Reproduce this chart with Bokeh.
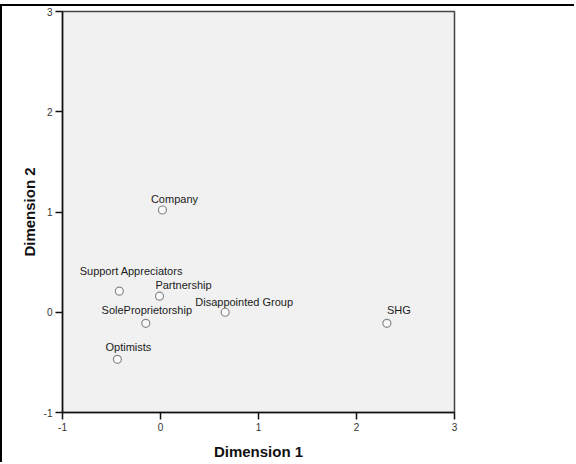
from bokeh.plotting import figure
from bokeh.models import ColumnDataSource, Range1d, FixedTicker, Label, PrintfTickFormatter
from bokeh.embed import file_html
from bokeh.resources import INLINE

# Object points on the first two dimensions
categories = ["Company", "Support Appreciators", "Partnership", "SoleProprietorship",
              "Disappointed Group", "Optimists", "SHG"]
dim1 = [0.02, -0.42, -0.01, -0.15, 0.66, -0.44, 2.31]
dim2 = [1.02, 0.21, 0.16, -0.11, 0.00, -0.47, -0.11]
tick_values = [-1, 0, 1, 2, 3]

# Label placement next to each point (screen pixels)
label_dx = [12, 12, 24, 1, 19, 11, 12]
label_dy = [-11, -20, -11, -13, -10, -12, -13]

source = ColumnDataSource(dict(
    x=dim1, y=dim2, name=categories,
    dx=label_dx, dy=label_dy,
))

p = figure(
    width=574, height=458,
    x_range=Range1d(-1, 3), y_range=Range1d(-1, 3),
    output_backend="svg", toolbar_location=None,
    min_border_left=60, min_border_right=122,
    min_border_top=5, min_border_bottom=52,
)
p.styles = {"border-top": "2px solid black", "border-left": "2px solid black",
            "margin-top": "4px"}

p.background_fill_color = "#f1f1f1"
p.border_fill_color = "white"
p.outline_line_color = "#444444"
p.outline_line_width = 1.5
p.grid.visible = False

for ax in (p.xaxis, p.yaxis):
    ax.ticker = FixedTicker(ticks=tick_values)
    ax.formatter = PrintfTickFormatter(format="%d")
    ax.axis_line_color = "#111111"
    ax.axis_line_width = 1.5
    ax.major_tick_line_color = "#111111"
    ax.major_tick_line_width = 1.5
    ax.major_tick_in = 0
    ax.major_tick_out = 7
    ax.minor_tick_line_color = None
    ax.major_label_text_font = "Liberation Sans"
    ax.major_label_text_font_size = "10px"
    ax.major_label_text_color = "#333333"
    ax.major_label_standoff = 3
    ax.axis_label_text_font = "Liberation Sans"
    ax.axis_label_text_font_style = "bold"
    ax.axis_label_text_font_size = "15px"
    ax.axis_label_text_color = "#111111"

p.xaxis.axis_label_standoff = 9
p.yaxis.axis_label_standoff = 3

p.xaxis.axis_label = "Dimension 1"
p.yaxis.axis_label = "Dimension 2"

p.scatter("x", "y", source=source, size=8, marker="circle",
          fill_color="white", fill_alpha=0.6, line_color="#888888", line_width=1.2)

p.text("x", "y", text="name", source=source, x_offset="dx", y_offset="dy",
       text_align="center", text_baseline="middle",
       text_font_size="11px", text_color="#1a1a1a",
       text_font={"value": "Liberation Sans"})

# faint ellipsis in the right margin
p.add_layout(Label(x=4.03, y=2.83, text="...", text_font_size="10px",
                   text_color="#999999", text_align="center",
                   text_baseline="middle"))

open("out.html", "w").write(file_html(p, INLINE))
